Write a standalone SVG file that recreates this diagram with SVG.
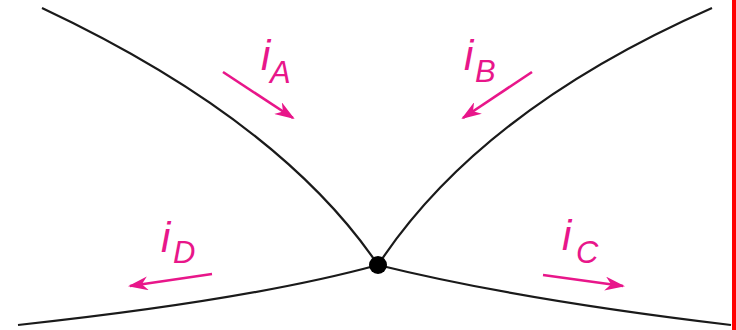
<svg xmlns="http://www.w3.org/2000/svg" width="736" height="330" viewBox="0 0 736 330">
  <defs>
    <marker id="ah" viewBox="0 0 20 14" refX="18" refY="7" markerWidth="20" markerHeight="14" markerUnits="userSpaceOnUse" orient="auto">
      <path d="M0,0 L20,7 L0,14 L6,7 Z" fill="#e8168a"/>
    </marker>
  </defs>
  <style>
    .wire { fill: none; stroke: #1a1a1a; stroke-width: 2.2; }
    .cur { fill: none; stroke: #e8168a; stroke-width: 2.6; marker-end: url(#ah); }
    .lbl { font-family: "Liberation Sans", Arial, sans-serif; font-style: italic; fill: #e8168a; }
    .main { font-size: 42px; }
    .sub { font-size: 31px; }
  </style>
  <rect x="0" y="0" width="736" height="330" fill="#ffffff"/>
  <rect x="732" y="0" width="4" height="330" fill="#ff0000"/>
  <g id="connectors">
    <path class="wire" d="M42,8 Q280,120 378,265"/>
    <path class="wire" d="M712,8 Q480,110 378,265"/>
    <path class="wire" d="M18,325 Q250,300 378,265"/>
    <path class="wire" d="M378,265 Q520,300 731,325"/>
  </g>
  <g id="junction">
    <circle cx="378" cy="265" r="9" fill="#000000"/>
  </g>
  <g id="current-A">
    <line class="cur" x1="223" y1="72" x2="293" y2="118"/>
    <text class="lbl main" x="261" y="70">i</text>
    <text class="lbl sub" x="270" y="83">A</text>
  </g>
  <g id="current-B">
    <line class="cur" x1="532" y1="72" x2="463" y2="118"/>
    <text class="lbl main" x="464" y="70">i</text>
    <text class="lbl sub" x="475" y="82">B</text>
  </g>
  <g id="current-D">
    <line class="cur" x1="212" y1="274" x2="130" y2="286"/>
    <text class="lbl main" x="161" y="252">i</text>
    <text class="lbl sub" x="173" y="263">D</text>
  </g>
  <g id="current-C">
    <line class="cur" x1="543" y1="275" x2="623" y2="286"/>
    <text class="lbl main" x="562" y="250">i</text>
    <text class="lbl sub" x="576" y="263">C</text>
  </g>
</svg>
